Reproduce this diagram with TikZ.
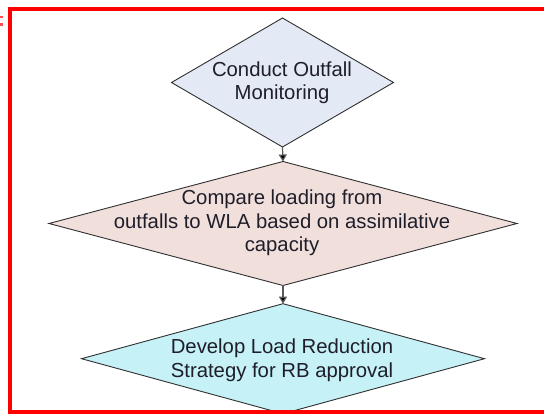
\documentclass[tikz,border=0pt]{standalone}
\usepackage{fontspec}
\setmainfont{Liberation Sans}
\usetikzlibrary{shapes.geometric,arrows.meta}
\definecolor{fillA}{HTML}{E3EAF6}
\definecolor{fillB}{HTML}{F1DFDC}
\definecolor{fillC}{HTML}{C6F1F6}
\definecolor{edgeC}{HTML}{303030}
\definecolor{txtC}{HTML}{1E1E2A}
\definecolor{frameC}{HTML}{FF0000}
\tikzset{
  decision/.style={diamond, draw=edgeC, line width=0.9pt, inner sep=0pt, outer sep=0pt},
  lbl/.style={anchor=base, inner sep=0pt, text=txtC, font=\fontsize{20.3}{24}\selectfont},
  flow/.style={draw=gray!70!black, line width=1.2pt, -{Triangle[length=7pt,width=8pt,fill=black]}},
  redframe/.style={draw=frameC, line width=4.5pt, line cap=butt, line join=miter}
}
\begin{document}
\begin{tikzpicture}[x=1pt,y=-1pt]
\useasboundingbox (0,0) rectangle (544,414);
\fill[white] (0,0) rectangle (544,414);
% diamonds
\node[decision, fill=fillA, minimum width=222pt, minimum height=129pt] (d1) at (282.5,82.5) {};
\node[decision, fill=fillB, minimum width=468pt, minimum height=124pt] (d2) at (283,223.5) {};
\node[decision, fill=fillC, minimum width=403pt, minimum height=110pt] (d3) at (283,358.7) {};
% connectors
\draw[flow] (d1.south) -- (d2.north);
\draw[flow] (d2.south) -- (d3.north);
% texts
\node[lbl] (t1a) at (282,76.5) {Conduct Outfall};
\node[lbl] (t1b) at (282,100) {Monitoring};
\node[lbl] (t2a) at (282,204.5) {Compare loading from};
\node[lbl] (t2b) at (282,228.5) {outfalls to WLA based on assimilative};
\node[lbl] (t2c) at (282,252) {capacity};
\node[lbl] (t3a) at (282,354) {Develop Load Reduction};
\node[lbl] (t3b) at (282,377.5) {Strategy for RB approval};
% red highlight frame
\draw[redframe] (544,9.2) -- (9.75,9.2) -- (9.75,412.3) -- (544,412.3);
\fill[frameC!70] (0,15.6) rectangle (3,17.8);
\fill[frameC!70] (0,23.4) rectangle (3,25.6);
\end{tikzpicture}
\end{document}
